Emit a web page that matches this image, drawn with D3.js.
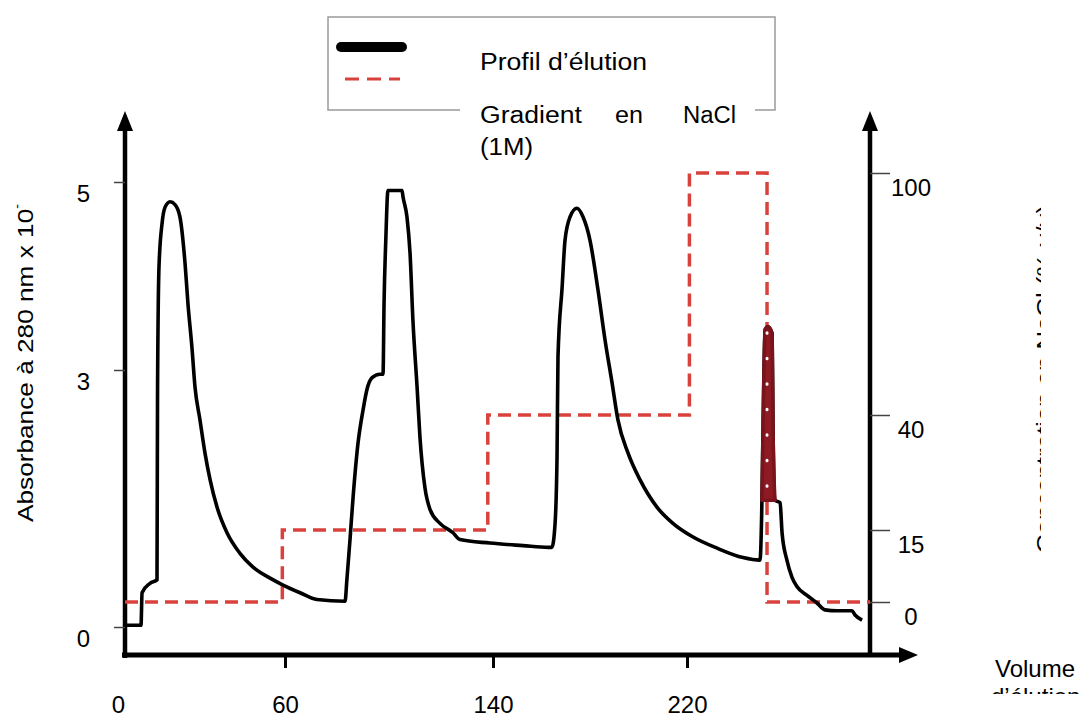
<!DOCTYPE html>
<html>
<head>
<meta charset="utf-8">
<script src="https://cdn.jsdelivr.net/npm/d3@7"></script>
<style>
  body { margin: 0; background: #fff; }
  text { font-family: "Liberation Sans", Arial, sans-serif; fill: #000; }
</style>
</head>
<body>
<div id="chart"></div>
<script>
// elution profile (volume, absorbance x10^-)
var volume = [0, 6.0, 6.4, 9.4, 12.0, 12.2, 12.75, 13.9, 15.0, 16.9, 18.75, 20.6, 22.5, 23.6, 25.1, 26.25,
  28.1, 30.0, 31.9, 34.5, 38.25, 43.1, 48.0, 54.4, 59.25, 65.8, 72.3, 83.1, 83.8, 85.0, 86.2, 88.1, 90.0,
  91.5, 93.5, 96.5, 97.7, 98.1, 98.8, 99.6, 105.0, 105.4, 106.9, 108.1, 109.2, 110.8, 111.9, 113.8, 115.8,
  119.6, 124.6, 127.3, 138.8, 152.4, 162.7, 164.3, 165.6, 166.4, 166.8, 168.5, 169.7, 171.8, 174.6, 177.1,
  180.0, 183.3, 186.2, 189.1, 191.5, 195.7, 200.6, 207.6, 214.2, 222.5, 232.4, 243.1, 250.1, 250.9, 251.3,
  252.2, 253.4, 255.1, 255.5, 256.3, 258.4, 259.2, 261.2, 263.3, 265.4, 269.5, 273.6, 276.9, 281.9, 288.0,
  289.3, 292.2];
var absorbance = [0.02, 0.02, 0.40, 0.51, 0.55, 2.73, 4.10, 4.56, 4.73, 4.79, 4.76, 4.63, 4.14, 3.71, 3.24, 2.80,
  2.42, 2.03, 1.72, 1.40, 1.10, 0.86, 0.70, 0.57, 0.49, 0.40, 0.32, 0.30, 0.55, 1.02, 1.52, 2.15, 2.53,
  2.77, 2.91, 2.95, 2.95, 3.71, 4.41, 4.91, 4.91, 4.84, 4.63, 4.24, 3.53, 2.80, 2.22, 1.63, 1.37,
  1.21, 1.10, 1.02, 0.98, 0.95, 0.93, 0.93, 1.21, 1.98, 3.14, 3.88, 4.38, 4.63, 4.72, 4.63,
  4.38, 3.85, 3.32, 2.85, 2.42, 2.03, 1.72, 1.40, 1.21, 1.05, 0.92, 0.81, 0.78, 1.48, 2.22,
  3.43, 3.46, 3.39, 2.26, 1.48, 1.45, 1.10, 0.78, 0.58, 0.47, 0.37, 0.28, 0.20, 0.19, 0.19,
  0.14, 0.08];

// NaCl step gradient (volume where each step starts, % NaCl)
var gradVolume = [0, 59, 138, 221, 253, 295.5];
var gradNaCl = [0, 15, 40, 100, 0, 0];

// peak eluted at 100 % (drawn in dark red)
var spikeFrom = 250.9, spikeTo = 256.3;

var volumeTicks = [0, 60, 140, 220];
var absTicks = [0, 3, 5];
var naclTicks = [0, 15, 40, 100];

var w = 1089, h = 720;
var svg = d3.select("#chart").append("svg")
    .attr("width", w)
    .attr("height", h);

// hand drawn axes are not quite linear, so piecewise scales
var x = d3.scaleLinear().domain(volumeTicks).range([125, 285, 493, 687]);
var yA = d3.scaleLinear().domain(absTicks).range([627, 370, 182]);
var yC = d3.scaleLinear().domain(naclTicks).range([602, 530, 415, 173]);

var axisY = 655, leftX = 125, rightX = 870;

// ---- legend ----
svg.append("rect")
   .attr("x", 328).attr("y", 17).attr("width", 447).attr("height", 93)
   .attr("fill", "none").attr("stroke", "#9a9a9a").attr("stroke-width", 1.5);
svg.append("rect")
   .attr("x", 460).attr("y", 98).attr("width", 295).attr("height", 70)
   .attr("fill", "#fff");
svg.append("line")
   .attr("x1", 341).attr("x2", 402).attr("y1", 47).attr("y2", 47)
   .attr("stroke", "#000").attr("stroke-width", 10).attr("stroke-linecap", "round");
svg.append("line")
   .attr("x1", 345).attr("x2", 400).attr("y1", 79).attr("y2", 79)
   .attr("stroke", "#d9423c").attr("stroke-width", 3).attr("stroke-dasharray", "14,8");
svg.append("text").text("Profil d’élution")
   .attr("x", 480).attr("y", 70).attr("font-size", "23px")
   .attr("textLength", 167).attr("lengthAdjust", "spacingAndGlyphs");
svg.append("text").text("Gradient").attr("x", 480).attr("y", 123).attr("font-size", "23px")
   .attr("textLength", 102).attr("lengthAdjust", "spacingAndGlyphs");
svg.append("text").text("en").attr("x", 615).attr("y", 123).attr("font-size", "23px")
   .attr("textLength", 28).attr("lengthAdjust", "spacingAndGlyphs");
svg.append("text").text("NaCl").attr("x", 683).attr("y", 123).attr("font-size", "23px")
   .attr("textLength", 53).attr("lengthAdjust", "spacingAndGlyphs");
svg.append("text").text("(1M)").attr("x", 480).attr("y", 155).attr("font-size", "23px")
   .attr("textLength", 53).attr("lengthAdjust", "spacingAndGlyphs");

// ---- axes lines with arrows ----
function arrow(points) {
  svg.append("path").attr("d", "M" + points.join("L") + "Z").attr("fill", "#000");
}
svg.append("line").attr("x1", leftX).attr("x2", leftX).attr("y1", axisY + 3).attr("y2", 125)
   .attr("stroke", "#000").attr("stroke-width", 4.5);
arrow([[leftX, 111], [leftX - 8, 131], [leftX + 8, 131]]);
svg.append("line").attr("x1", rightX).attr("x2", rightX).attr("y1", axisY).attr("y2", 125)
   .attr("stroke", "#000").attr("stroke-width", 4.5);
arrow([[rightX, 111], [rightX - 8, 131], [rightX + 8, 131]]);
svg.append("line").attr("x1", leftX - 3).attr("x2", 902).attr("y1", axisY).attr("y2", axisY)
   .attr("stroke", "#000").attr("stroke-width", 5);
arrow([[918, axisY], [899, axisY - 8], [899, axisY + 8]]);

// ---- ticks ----
var gl = svg.append("g").attr("transform", "translate(" + leftX + ",0)")
   .call(d3.axisLeft(yA).tickValues(absTicks).tickSize(11).tickFormat(d3.format("d")));
gl.select(".domain").remove();
gl.selectAll(".tick line").attr("stroke", "#444").attr("stroke-width", 1.5);
gl.selectAll(".tick text").attr("x", -35).attr("dy", "0.35em")
   .attr("transform", "translate(0,11)").style("font-size", "24px")
   .style("font-family", "Liberation Sans, Arial, sans-serif");

var gr = svg.append("g").attr("transform", "translate(" + rightX + ",0)")
   .call(d3.axisRight(yC).tickValues(naclTicks).tickSize(20).tickFormat(d3.format("d")));
gr.select(".domain").remove();
gr.selectAll(".tick line").attr("stroke", "#444").attr("stroke-width", 1.5);
gr.selectAll(".tick text").attr("x", 41).attr("dy", "0.35em").attr("text-anchor", "middle")
   .attr("transform", "translate(0,14)").style("font-size", "24px")
   .style("font-family", "Liberation Sans, Arial, sans-serif");

var gb = svg.append("g").attr("transform", "translate(0," + axisY + ")")
   .call(d3.axisBottom(x).tickValues(volumeTicks).tickSize(13).tickFormat(d3.format("d")));
gb.select(".domain").remove();
gb.selectAll(".tick line").attr("stroke", "#000").attr("stroke-width", 3)
   .attr("opacity", function(d) { return d === 0 ? 0 : 1; });
gb.selectAll(".tick text").attr("y", 58).attr("dy", 0)
   .attr("transform", function(d) { return d === 0 ? "translate(-7,0)" : null; })
   .style("font-size", "24px").style("font-family", "Liberation Sans, Arial, sans-serif");

// ---- gradient (red dashed steps) ----
var gradPts = gradVolume.map(function(v, i) { return [v, gradNaCl[i]]; });
svg.append("path")
   .datum(gradPts)
   .attr("d", d3.line().x(function(d) { return x(d[0]); })
                       .y(function(d) { return yC(d[1]); })
                       .curve(d3.curveStepAfter))
   .attr("fill", "none").attr("stroke", "#d9423c").attr("stroke-width", 3.5)
   .attr("stroke-dasharray", "13,7");

// ---- elution profile ----
var prof = volume.map(function(v, i) { return [v, absorbance[i]]; });
var line = d3.line().x(function(d) { return x(d[0]); }).y(function(d) { return yA(d[1]); })
   .curve(d3.curveMonotoneX);
svg.append("path")
   .datum(prof)
   .attr("d", line)
   .attr("fill", "none").attr("stroke", "#000").attr("stroke-width", 3.6)
   .attr("stroke-linejoin", "round");

var spike = prof.filter(function(d) { return d[0] >= spikeFrom && d[0] <= spikeTo; });
svg.append("path")
   .datum(spike)
   .attr("d", function(d) { return line(d) + "Z"; })
   .attr("fill", "#8e1b24").attr("stroke", "#7a141c").attr("stroke-width", 3.5)
   .attr("stroke-linejoin", "round");
svg.append("line")
   .attr("x1", x(gradVolume[4])).attr("x2", x(gradVolume[4]))
   .attr("y1", yA(d3.max(spike, function(d) { return d[1]; })) + 6)
   .attr("y2", yA(spike[0][1]))
   .attr("stroke", "#fff").attr("stroke-width", 3).attr("stroke-linecap", "round")
   .attr("stroke-dasharray", "0.5,25");

// ---- axis titles ----
svg.append("text")
   .attr("transform", "translate(33,363) rotate(-90)")
   .attr("text-anchor", "middle").attr("font-size", "22px")
   .attr("textLength", 318).attr("lengthAdjust", "spacingAndGlyphs")
   .text("Absorbance à 280 nm x 10")
   .append("tspan").attr("font-size", "12px").attr("dy", "-12").text("-");

svg.append("clipPath").attr("id", "clipR")
   .append("rect").attr("x", 960).attr("y", 150).attr("width", 81).attr("height", 450);
svg.append("g").attr("clip-path", "url(#clipR)")
   .append("text")
   .attr("transform", "translate(1052,379) rotate(-90)")
   .attr("text-anchor", "middle").attr("font-size", "22px")
   .attr("textLength", 348).attr("lengthAdjust", "spacingAndGlyphs")
   .text("Concentration en NaCl (% v/v)");

svg.append("text").text("Volume").attr("x", 995).attr("y", 677).attr("font-size", "24px");
svg.append("clipPath").attr("id", "clipB")
   .append("rect").attr("x", 960).attr("y", 670).attr("width", 129).attr("height", 24);
svg.append("g").attr("clip-path", "url(#clipB)")
   .append("text").text("d’élution").attr("x", 991).attr("y", 705).attr("font-size", "24px");
</script>
</body>
</html>
